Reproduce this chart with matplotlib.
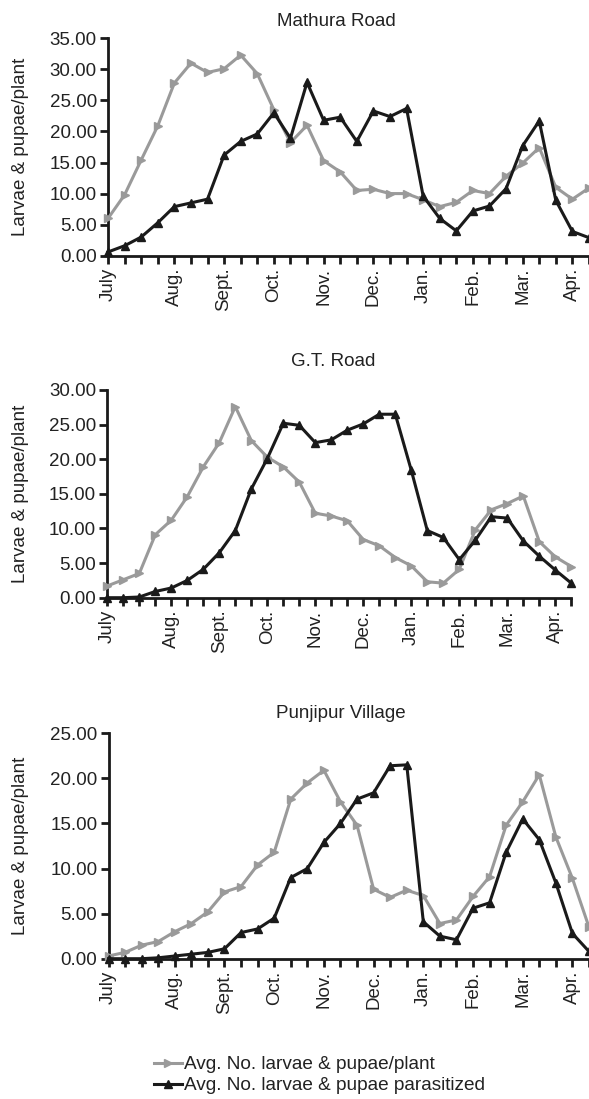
import matplotlib
matplotlib.use("Agg")
import matplotlib.pyplot as plt
from matplotlib.lines import Line2D

plt.rcParams['font.family'] = ['Liberation Sans', 'DejaVu Sans']

tick_labels = ['July', '', '', '', 'Aug.', '', '', 'Sept.', '', '', 'Oct.', '', '', 'Nov.', '', '',
               'Dec.', '', '', 'Jan.', '', '', 'Feb.', '', '', 'Mar.', '', '', 'Apr.', '']

titles = ['Mathura Road', 'G.T. Road', 'Punjipur Village']

mathura_total = [6.0, 9.8, 15.4, 20.9, 27.8, 31.0, 29.5, 30.1, 32.3, 29.3, 23.5, 18.2, 21.0, 15.3, 13.5,
                 10.5, 10.7, 10.0, 10.0, 9.0, 7.9, 8.6, 10.5, 10.0, 12.8, 14.9, 17.4, 11.0, 9.1, 10.9]
mathura_parasit = [0.6, 1.6, 3.0, 5.3, 7.9, 8.5, 9.1, 16.2, 18.4, 19.6, 23.0, 18.9, 27.9, 21.8, 22.3,
                   18.4, 23.3, 22.4, 23.7, 9.6, 6.0, 4.0, 7.2, 8.0, 10.8, 17.7, 21.7, 8.9, 3.9, 2.9]

gt_total = [1.7, 2.6, 3.5, 9.1, 11.2, 14.6, 18.9, 22.4, 27.6, 22.7, 20.3, 18.9, 16.7, 12.2, 11.8,
            11.1, 8.4, 7.5, 5.8, 4.6, 2.3, 2.1, 4.1, 9.8, 12.7, 13.6, 14.7, 8.1, 5.9, 4.5]
gt_parasit = [0.0, 0.0, 0.1, 0.9, 1.4, 2.5, 4.1, 6.5, 9.7, 15.7, 20.1, 25.2, 24.9, 22.4, 22.8,
              24.2, 25.1, 26.5, 26.5, 18.4, 9.7, 8.7, 5.5, 8.3, 11.7, 11.5, 8.2, 6.0, 4.0, 2.1]

pun_total = [0.3, 0.7, 1.5, 1.9, 3.0, 3.9, 5.2, 7.4, 8.0, 10.4, 11.8, 17.7, 19.5, 20.9, 17.4,
             14.8, 7.7, 6.8, 7.6, 7.0, 3.9, 4.3, 6.9, 9.1, 14.8, 17.4, 20.4, 13.5, 8.9, 3.5]
pun_parasit = [0.0, 0.0, 0.0, 0.1, 0.3, 0.5, 0.7, 1.1, 2.9, 3.3, 4.5, 9.0, 10.0, 12.9, 15.0,
               17.7, 18.4, 21.4, 21.5, 4.1, 2.5, 2.1, 5.6, 6.2, 11.8, 15.5, 13.2, 8.4, 2.8, 0.8]

totals = [mathura_total, gt_total, pun_total]
parasits = [mathura_parasit, gt_parasit, pun_parasit]
ymaxes = [35, 30, 25]

W, H = 589, 1099
fig = plt.figure(figsize=(W / 100, H / 100), dpi=100)

# panel geometry in pixels: left, right, top, bottom, xmax
geom = [
    (108.0, 589.0, 38.3, 255.7, 28.8),
    (107.3, 571.3, 390.0, 597.7, 29.0),
    (108.5, 589.0, 733.3, 958.7, 28.8),
]
title_pos = [(336, 22), (333, 362), (341, 713)]

GREY = '#9a9a9a'
BLACK = '#1a1a1a'
TXT = '#222222'
FS = 13.5

for k in range(3):
    l, r, t, b, xmax = geom[k]
    ax = fig.add_axes([l / W, 1 - b / H, (r - l) / W, (b - t) / H])
    x = list(range(len(totals[k])))
    ax.plot(x, totals[k], color=GREY, lw=2.2, marker='>', ms=5.5, clip_on=False, zorder=3)
    ax.plot(x, parasits[k], color=BLACK, lw=2.2, marker='^', ms=5.5, clip_on=False, zorder=4)
    ax.set_xlim(0, xmax)
    ax.set_ylim(0, ymaxes[k])
    yt = list(range(0, ymaxes[k] + 1, 5))
    ax.set_yticks(yt)
    ax.set_yticklabels([f'{v:.2f}' for v in yt], fontsize=FS, color=TXT)
    ax.set_xticks(x)
    ax.set_xticklabels(tick_labels[:len(x)], rotation=90, fontsize=FS, color=TXT)
    for s in ['top', 'right']:
        ax.spines[s].set_visible(False)
    for s in ['left', 'bottom']:
        ax.spines[s].set_linewidth(2.0)
        ax.spines[s].set_color(BLACK)
    ax.tick_params(axis='both', direction='out', length=5.5, width=2.0, color=BLACK)
    ax.tick_params(axis='y', pad=2.5)
    ax.tick_params(axis='x', pad=3)
    ax.set_ylabel('Larvae & pupae/plant', fontsize=FS, color=TXT)
    ax.yaxis.set_label_coords((29 - l) / (r - l), 0.5)
    fig.text(title_pos[k][0] / W, 1 - title_pos[k][1] / H, titles[k], ha='center', va='center',
             fontsize=FS, color=TXT)

handles = [
    Line2D([], [], color=GREY, lw=2.2, marker='>', ms=5.5),
    Line2D([], [], color=BLACK, lw=2.2, marker='^', ms=5.5),
]
labels = ['Avg. No. larvae & pupae/plant', 'Avg. No. larvae & pupae parasitized']
leg = fig.legend(handles, labels, loc='upper left', bbox_to_anchor=(154 / W, 1 - 1056 / H),
                 frameon=False, fontsize=13.7, handlelength=1.45, handletextpad=0.15,
                 labelspacing=0.2, borderpad=0, borderaxespad=0, numpoints=1)
for t in leg.get_texts():
    t.set_color(TXT)

fig.savefig('out.png', dpi=100)
